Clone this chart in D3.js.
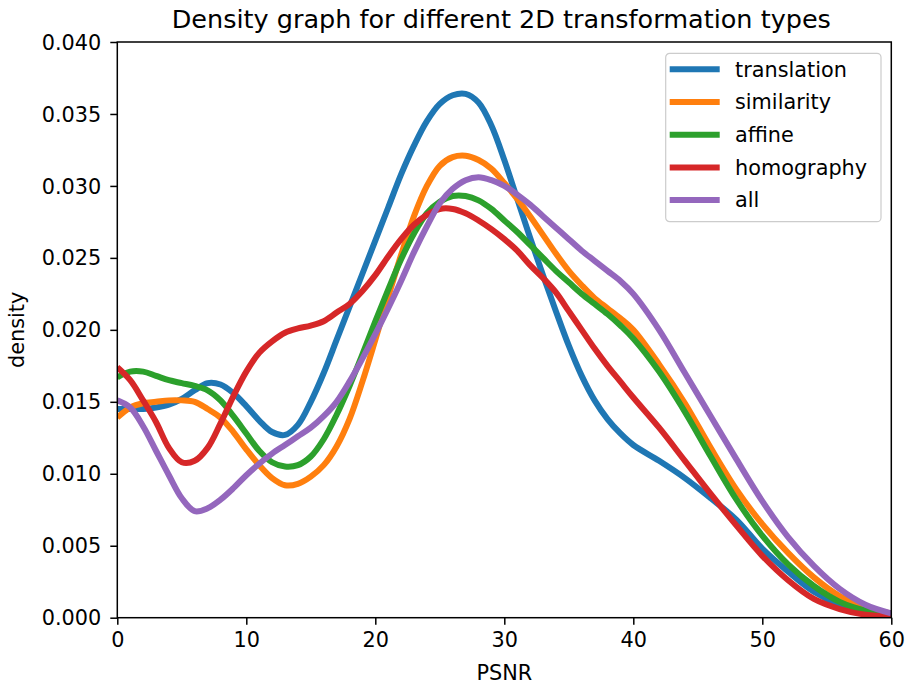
<!DOCTYPE html>
<html>
<head>
<meta charset="utf-8">
<script src="https://cdn.jsdelivr.net/npm/d3@7"></script>
<style>
  body { margin: 0; background: #fff; }
  svg { display: block; font-family: "DejaVu Sans", sans-serif; }
</style>
</head>
<body>
<div id="chart"></div>
<script>
// PSNR sample positions (shared by all series)
const psnr = [0,1,2,3,4,5,6,7,8,9,10,11,12,13,14,15,16,17,18,19,20,21,22,23,24,25,26,27,28,29,30,
    31,32,33,34,35,36,37,38,39,40,42,44,46,48,50,52,54,56,58,60];

const translation = [0.0145,0.0145,0.0145,0.0146,0.0148,0.0152,0.0158,0.0163,0.0162,0.0156,0.0147,
    0.0137,0.0129,0.0127,0.0134,0.0150,0.0170,0.0193,0.0216,0.0239,0.0262,0.0285,0.0308,0.0328,0.0345,
    0.0357,0.0363,0.0364,0.0358,0.0342,0.0318,0.0291,0.0264,0.0238,0.0213,0.0189,0.0168,0.0151,0.0138,
    0.0128,0.0120,0.0109,0.0097,0.0083,0.0068,0.0048,0.0032,0.0018,0.0009,0.0004,0.0001];

const similarity = [0.0139,0.0146,0.0149,0.0150,0.0151,0.0151,0.0150,0.0145,0.0139,0.0129,0.0117,
    0.0106,0.0097,0.0092,0.0093,0.0098,0.0106,0.0119,0.0138,0.0164,0.0193,0.0223,0.0252,0.0279,0.0300,
    0.0314,0.0320,0.0321,0.0318,0.0312,0.0302,0.0291,0.0279,0.0266,0.0253,0.0241,0.0231,0.0222,0.0215,
    0.0208,0.0200,0.0176,0.0149,0.0118,0.0089,0.0065,0.0045,0.0028,0.0015,0.0007,0.0003];

const affine = [0.0167,0.0171,0.0171,0.0168,0.0165,0.0163,0.0161,0.0158,0.0151,0.0140,0.0128,
    0.0116,0.0108,0.0105,0.0106,0.0112,0.0124,0.0141,0.0161,0.0183,0.0206,0.0228,0.0249,0.0267,0.0281,
    0.0289,0.0293,0.0293,0.0290,0.0284,0.0276,0.0268,0.0259,0.0250,0.0241,0.0233,0.0225,0.0218,0.0211,
    0.0203,0.0194,0.0171,0.0143,0.0112,0.0082,0.0057,0.0037,0.0022,0.0011,0.0005,0.0002];

const homography = [0.0174,0.0165,0.0151,0.0136,0.0118,0.0108,0.0109,0.0118,0.0135,0.0154,0.0171,
    0.0184,0.0192,0.0198,0.0201,0.0203,0.0206,0.0212,0.0218,0.0227,0.0238,0.0251,0.0263,0.0273,0.0280,
    0.0284,0.0284,0.0281,0.0276,0.0270,0.0263,0.0255,0.0245,0.0236,0.0226,0.0213,0.0200,0.0187,0.0175,
    0.0164,0.0153,0.0132,0.0109,0.0086,0.0064,0.0043,0.0026,0.0013,0.0006,0.0002,0.0001];

const all = [0.0151,0.0146,0.0133,0.0116,0.0099,0.0083,0.0074,0.0076,0.0082,0.0090,0.0099,
    0.0107,0.0114,0.0120,0.0126,0.0132,0.0140,0.0150,0.0164,0.0180,0.0197,0.0215,0.0234,0.0254,0.0272,
    0.0288,0.0298,0.0304,0.0306,0.0304,0.0300,0.0294,0.0287,0.0279,0.0271,0.0263,0.0255,0.0248,0.0241,
    0.0234,0.0225,0.0200,0.0170,0.0140,0.0110,0.0081,0.0056,0.0036,0.0020,0.0009,0.0003];

const seriesNames = ["translation", "similarity", "affine", "homography", "all"];
const seriesValues = [translation, similarity, affine, homography, all];
const colors = ["#1f77b4", "#ff7f0e", "#2ca02c", "#d62728", "#9467bd"];

const xTicks = [0, 10, 20, 30, 40, 50, 60];
const yTicks = [0, 0.005, 0.010, 0.015, 0.020, 0.025, 0.030, 0.035, 0.040];

const width = 907, height = 686;
const margin = { top: 42, right: 15.7, bottom: 68.3, left: 117.3 };
const innerW = width - margin.left - margin.right;
const innerH = height - margin.top - margin.bottom;
const fontSize = 20.8;

const svg = d3.select("#chart").append("svg")
    .attr("width", width).attr("height", height);

const x = d3.scaleLinear().domain([0, 60]).range([0, innerW]);
const y = d3.scaleLinear().domain([0, 0.04]).range([innerH, 0]);

const g = svg.append("g").attr("transform", "translate(" + margin.left + "," + margin.top + ")");

svg.append("defs").append("clipPath").attr("id", "plotClip")
    .append("rect").attr("width", innerW).attr("height", innerH);

// density curves
const line = d3.line()
    .x((d, i) => x(psnr[i]))
    .y(d => y(d))
    .curve(d3.curveCatmullRom.alpha(0.5));

g.append("g").attr("clip-path", "url(#plotClip)")
    .selectAll("path").data(seriesValues).enter().append("path")
    .attr("d", d => line(d))
    .attr("fill", "none")
    .attr("stroke", (d, i) => colors[i])
    .attr("stroke-width", 6)
    .attr("stroke-linejoin", "round");

// axes
const xAxis = d3.axisBottom(x).tickValues(xTicks).tickFormat(d3.format("d"))
    .tickSize(7).tickSizeOuter(0).tickPadding(8);
const yAxis = d3.axisLeft(y).tickValues(yTicks).tickFormat(d3.format(".3f"))
    .tickSize(7).tickSizeOuter(0).tickPadding(9);

const xg = g.append("g").attr("transform", "translate(0," + innerH + ")").call(xAxis);
const yg = g.append("g").call(yAxis);

[xg, yg].forEach(a => {
    a.selectAll("text").attr("font-size", fontSize).attr("fill", "#000")
        .attr("font-family", "DejaVu Sans, sans-serif");
    a.selectAll("line").attr("stroke", "#000").attr("stroke-width", 1.5);
    a.select(".domain").remove();
});
yg.selectAll("text").attr("dy", "0.34em");

// spines
g.append("rect").attr("width", innerW).attr("height", innerH)
    .attr("fill", "none").attr("stroke", "#000").attr("stroke-width", 1.5);

// labels
svg.append("text").attr("x", margin.left + innerW / 2 - 3).attr("y", 27.5)
    .attr("text-anchor", "middle").attr("font-size", 25.5).attr("fill", "#000")
    .text("Density graph for different 2D transformation types");

svg.append("text").attr("x", margin.left + innerW / 2).attr("y", 680)
    .attr("text-anchor", "middle").attr("font-size", fontSize).attr("fill", "#000")
    .text("PSNR");

svg.append("text").attr("transform", "translate(24," + (margin.top + innerH / 2) + ") rotate(-90)")
    .attr("text-anchor", "middle").attr("font-size", fontSize).attr("fill", "#000")
    .text("density");

// legend
const legend = svg.append("g").attr("transform", "translate(665.7,53.3)");
legend.append("rect").attr("width", 215.3).attr("height", 168.4).attr("rx", 4)
    .attr("fill", "#fff").attr("fill-opacity", 0.8)
    .attr("stroke", "#cccccc").attr("stroke-width", 1.2);

const items = legend.selectAll("g.item").data(seriesNames).enter().append("g")
    .attr("class", "item")
    .attr("transform", (d, i) => "translate(0," + (16 + i * 32.7) + ")");

items.append("line").attr("x1", 7).attr("x2", 51)
    .attr("stroke", (d, i) => colors[i]).attr("stroke-width", 6)
    .attr("stroke-linecap", "square");

items.append("text").attr("x", 69.3).attr("dy", "0.35em")
    .attr("font-size", fontSize).attr("fill", "#000")
    .text(d => d);
</script>
</body>
</html>
